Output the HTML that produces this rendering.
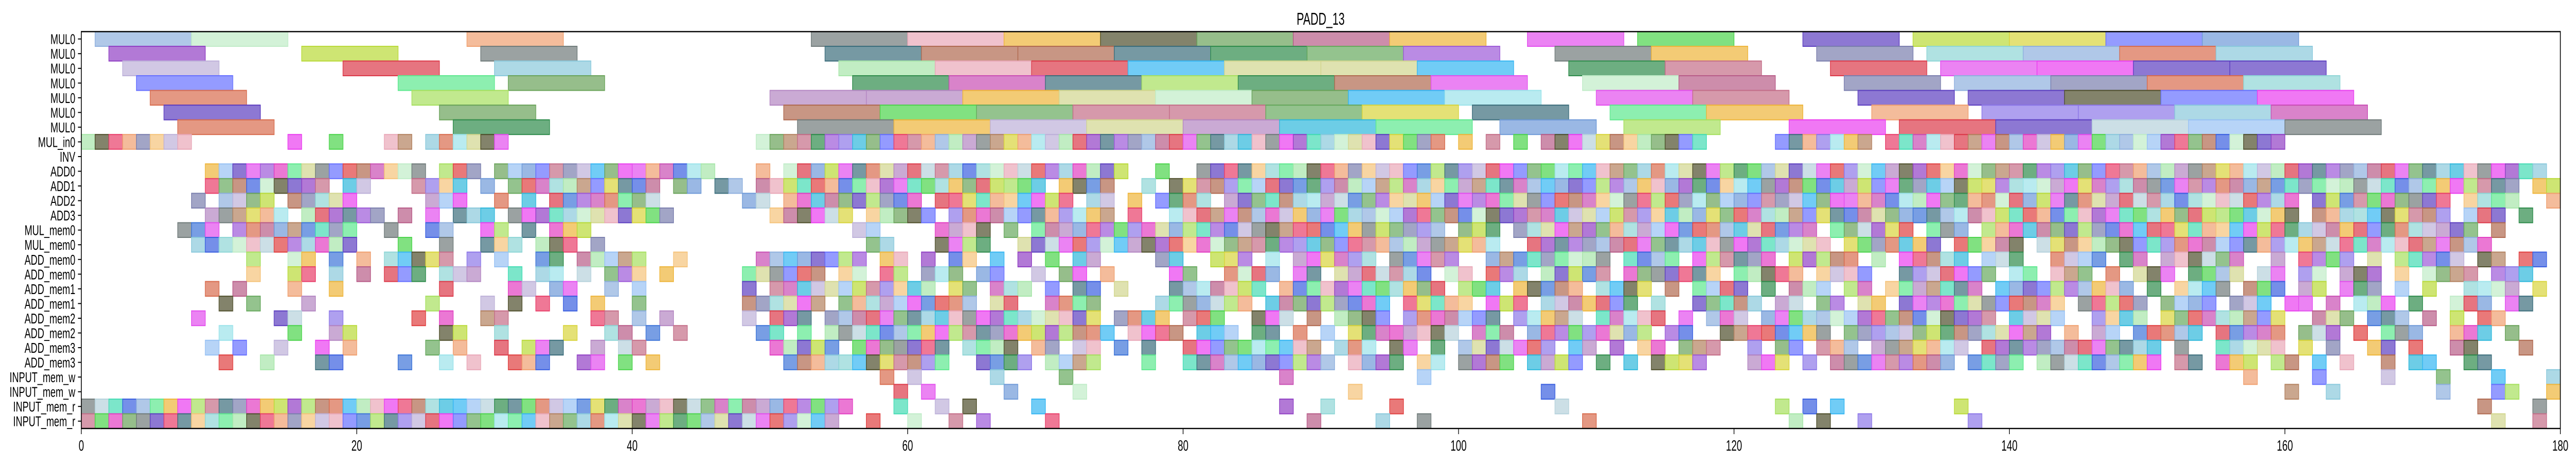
<!DOCTYPE html>
<html><head><meta charset="utf-8"><title>PADD_13</title>
<meta name="viewport" content="width=7730, initial-scale=1">
<style>html,body{margin:0;padding:0;background:#fff;overflow:hidden;width:100vw;height:100vh;}svg{display:block;width:100vw;height:100vh;}text{font-family:"Liberation Sans","DejaVu Sans",sans-serif;fill:#000;}</style>
</head><body>
<svg id="chart" viewBox="0 0 7730 899" preserveAspectRatio="none" xmlns="http://www.w3.org/2000/svg">
<text x="3963" y="48" font-size="33" text-anchor="middle">PADD_13</text>
<g id="marks"></g>
<g id="yaxis"></g>
<g id="xaxis"></g>
<rect x="244" y="61.4" width="7439" height="770.6" fill="none" stroke="#000" stroke-width="2.4"/>
</svg>
<script>
const rowLabels = ["MUL0","MUL0","MUL0","MUL0","MUL0","MUL0","MUL0","MUL_in0","INV","ADD0","ADD1","ADD2","ADD3","MUL_mem0","MUL_mem0","ADD_mem0","ADD_mem0","ADD_mem1","ADD_mem1","ADD_mem2","ADD_mem2","ADD_mem3","ADD_mem3","INPUT_mem_w","INPUT_mem_w","INPUT_mem_r","INPUT_mem_r"];
const mulDuration = 7;
const mulStarts = [
 [1,8,28,53,60,67,74,81,88,95,105,113,125,133,140,147,154],
 [2,16,29,54,61,68,75,82,89,96,107,114,126,134,141,148,155],
 [3,19,30,55,62,69,76,83,90,97,108,115,127,135,142,149,156],
 [4,23,31,56,63,70,77,84,91,98,109,116,128,136,143,150,157],
 [5,24,50,57,64,71,78,85,92,99,110,117,129,137,144,151,158],
 [6,26,51,58,65,72,79,86,93,101,111,118,130,138,145,152,159],
 [7,27,52,59,66,73,80,87,94,103,112,124,132,139,146,153,160]
];
const unitCells = [
 "0-7,15,18,22,23,25-30,49-98,100,102,104,106-117,123-129,131-159",
 "",
 "9-24,26-28,30-45,49,51-75,78,81-178",
 "9-17,19,20,24-27,29,31-41,43,44,46,47,49-69,71-74,77,79-176,178,179",
 "8,10-13,15-19,25-27,30,32,34-41,48,49,51-60,62-71,73,74,76,78-81,83-160,162-171,173-176,179",
 "9-14,16-21,23,25,27-29,31-42,50-55,57-61,63-74,76,79-160,162-171,173-175,177",
 "7-9,11-19,22,25,26,29,30,32,34-36,56,57,62-65,67,69-98,100-102,104-125,127-132,134-136,138-173,175",
 "8-19,23,26,29-31,33-35,37,57,58,62-65,68-102,105-126,128-134,136-140,142-174",
 "12,15,16,18,20,22-26,28,30,33,34,36-40,43,49-56,58,59,61,63,64,66,68,70,72,73,78,79,82-84,86,88-93,95-99,102-110,112-115,117-122,124-128,130,132-136,138-140,143-146,148,149,151-156,159,161-164,166,168-172,174,175,177,178",
 "12,15,16,18,20,22-24,26-28,31,33,34,36,38-40,42,48-53,55,56,58,59,61-63,65,66,69,71,72,74,79,80,83-86,88,89,91-97,99,100,102-104,106-110,112-118,120-124,126-129,132-138,140,141,143-145,147,149-151,153-156,158,159,161,162,164-166,168,170-173,175-177",
 "9,11,15,18,26,31,32,34,35,38,40,48,50-61,63,64,66-68,70,72,73,75,79-85,87-98,100-102,104-108,110-113,115,117-120,122,124-126,128,129,131-137,139-148,150,152-155,157-159,161,162,164-166,168,170,173-176,178",
 "10,12,16,25,29,31,33,35,37,40,48-53,55-64,66,67,70-73,78-84,86-94,96-100,102-104,106-112,114,117-121,123,124,126,127,129,130,132-143,145-149,151-154,156-158,160,161,163,165-167,169,172-174,176,177",
 "8,14,15,18,24,26,29,30,37,38,40,42,48,50-52,54-73,75-78,80-82,85-87,89,91-94,96-102,104-108,110-114,116,118-120,122-138,140-143,146-149,151-159,162-164,166-168,170,172,174,175",
 "10,15,18,19,26,27,30,35,38,39,41,43,49,50,52,54-74,76-79,81-83,85,86,88,90,92-99,101-103,105-113,115,116,119-126,128-142,144,146,147,149-153,155-159,161-163,165,167-169,172-174,176",
 "9,11,14,17,19,25,27,30,32-34,37,39,40,50-54,56-62,64-67,69,70,72,73,75,77,80-89,91-93,95,96,98,100-106,108,109,111,113,114,116-118,121,123,124,126-128,130-136,138-150,152,155-159,161,163,166,167,169,172,173,177",
 "10,13,17,18,23,26,28,31-33,36,37,39,41,51-62,65-68,70-73,77,80-90,92-95,97,98,100-103,105-108,110,112,114-117,121-123,125,127-135,137-140,142-150,152,153,155-157,159,160,162,164,167,169,170,173,174",
 "58,60,66,71,87,97,157,162,167,171,175,179",
 "59,61,67,72,92,106,160,163,171,175,176,179",
 "0-55,59,62,64,69,87,90,95,107,123,125,127,136,174,178",
 "0-54,57,60,63,65,70,89,94,97,109,124,126,129,137,175,178"
];
const xTicks = [0,20,40,60,80,100,120,140,160,180];

const NS = "http://www.w3.org/2000/svg";
const PL = 244, PR = 7683, PT = 61.4, PB = 832, XMAX = 180;
const ROWH = (PB - PT) / rowLabels.length;
function X(v){ return PL + (PR - PL) * v / XMAX; }
function rowTop(r){ return PT + r * ROWH; }
const palette = ["#4cd44c","#c94fb4","#7b7fae","#8ac9dc","#8d77e8","#3a5fe0","#d86c4e","#f5c37a","#8fb0de","#8ed6d6","#e23ec2","#9be3ea","#2fb8dc","#5de88e","#bdb1d9","#c0ecc8","#b85c88","#35b6f2","#d2d68e","#a7e6a9","#eeb53a","#b486c2","#6aa35a","#e9a8b8","#98c2f4","#707b7a","#dc3a4a","#4f4f2c","#6f9ad8","#ea3eef","#5d3fc0","#b38260","#b9da38","#b6d2dc","#6670ff","#9140c4","#3e75d8","#e83f6a","#e34fee","#d8d43c","#a6e05e","#67a95e","#c46e88","#44dcb4","#2f8c4c","#e04040","#3c6e7c","#b06a50","#9d5ad8","#f0a070"];
function color(r, c){ return palette[(r * 17 + c * 7 + ((c * c) % 11)) % palette.length]; }
function parseCells(s){
  const out = [];
  if(!s) return out;
  s.split(",").forEach(p => {
    const ab = p.split("-").map(Number);
    if(ab.length === 1) out.push(ab[0]);
    else for(let k = ab[0]; k <= ab[1]; k++) out.push(k);
  });
  return out;
}
const marks = document.getElementById("marks");
function block(r, c, len, name){
  const col = color(r, c);
  const el = document.createElementNS(NS, "rect");
  el.setAttribute("x", X(c));
  el.setAttribute("y", rowTop(r));
  el.setAttribute("width", X(c + len) - X(c));
  el.setAttribute("height", ROWH);
  el.setAttribute("fill", col);
  el.setAttribute("fill-opacity", "0.7");
  el.setAttribute("stroke", col);
  el.setAttribute("stroke-width", "2");
  
  
  marks.appendChild(el);
}
mulStarts.forEach((starts, r) => starts.forEach(s => block(r, s, mulDuration, "mul-task-bar")));
unitCells.forEach((str, i) => parseCells(str).forEach(c => block(i + 7, c, 1, "task-cell")));

const yaxis = document.getElementById("yaxis");
rowLabels.forEach((lab, r) => {
  const cy = rowTop(r) + ROWH / 2;
  const t = document.createElementNS(NS, "line");
  t.setAttribute("x1", PL - 10); t.setAttribute("x2", PL);
  t.setAttribute("y1", cy); t.setAttribute("y2", cy);
  t.setAttribute("stroke", "#000"); t.setAttribute("stroke-width", "2");
  
  
  yaxis.appendChild(t);
  const tx = document.createElementNS(NS, "text");
  tx.setAttribute("x", PL - 18); tx.setAttribute("y", cy + 10);
  tx.setAttribute("font-size", "28"); tx.setAttribute("text-anchor", "end");
  tx.textContent = lab;
  
  
  yaxis.appendChild(tx);
});
const xaxis = document.getElementById("xaxis");
xTicks.forEach(v => {
  const t = document.createElementNS(NS, "line");
  t.setAttribute("x1", X(v)); t.setAttribute("x2", X(v));
  t.setAttribute("y1", PB); t.setAttribute("y2", PB + 11);
  t.setAttribute("stroke", "#000"); t.setAttribute("stroke-width", "2");
  
  
  xaxis.appendChild(t);
  const tx = document.createElementNS(NS, "text");
  tx.setAttribute("x", X(v)); tx.setAttribute("y", 875);
  tx.setAttribute("font-size", "29"); tx.setAttribute("text-anchor", "middle");
  tx.textContent = v;
  
  
  xaxis.appendChild(tx);
});
</script>
</body></html>
